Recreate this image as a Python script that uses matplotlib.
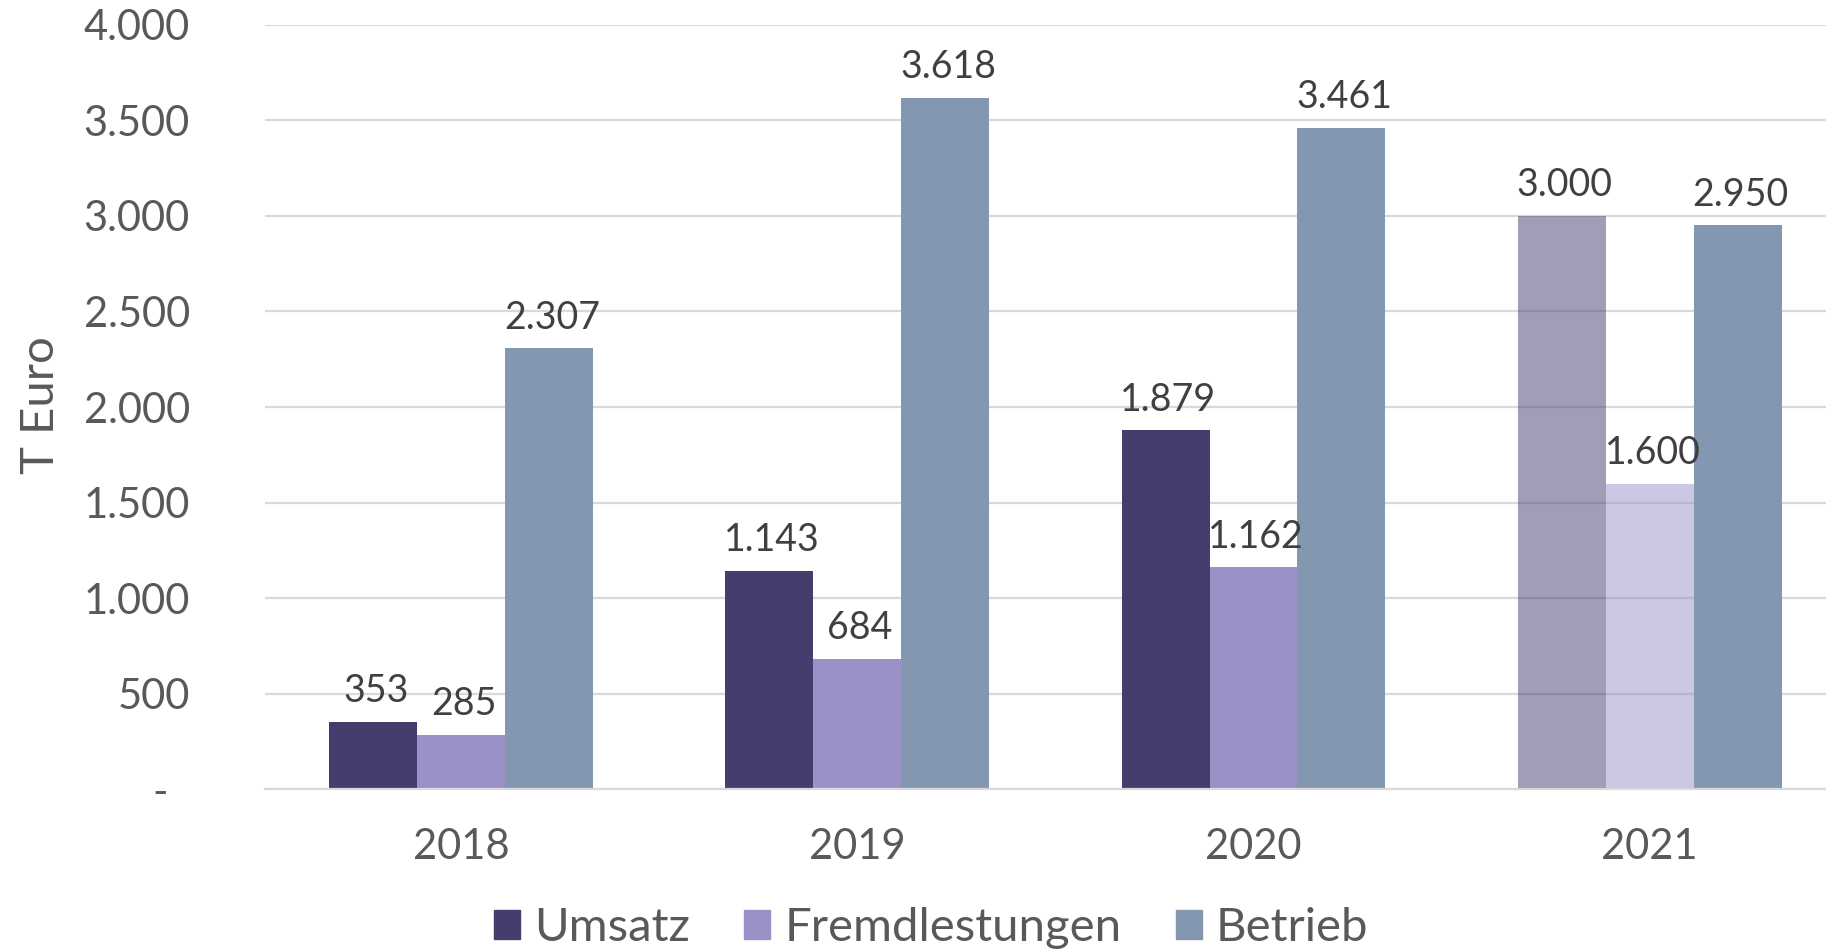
import matplotlib
matplotlib.use('Agg')
import matplotlib.pyplot as plt
from matplotlib.colors import to_rgba
from matplotlib.ticker import FuncFormatter, MultipleLocator
import numpy as np

# Data
years = ['2018', '2019', '2020', '2021']
umsatz = [353, 1143, 1879, 3000]
fremdleistungen = [285, 684, 1162, 1600]
betrieb = [2307, 3618, 3461, 2950]
series_names = ['Umsatz', 'Fremdlestungen', 'Betrieb']

# Style
colors = ['#463C6E', '#9B91C6', '#8497B0']
# 2021 Umsatz / Fremdleistungen drawn faded (plan values)
fade = [[1, 1, 1, 0.5], [1, 1, 1, 0.5], [1, 1, 1, 1]]
text_dark = '#404040'
text_grey = '#595959'
grid_col = '#D9D9D9'

plt.rcParams['font.family'] = ['Lato', 'DejaVu Sans']

fig = plt.figure(figsize=(18.26, 9.5), dpi=100)
ax = fig.add_axes([0.1451, 0.169, 0.8549, 0.805])

x = np.arange(len(years))
width = 0.222
offsets = [-width, 0, width]
all_vals = [umsatz, fremdleistungen, betrieb]

for vals, name, col, alphas, off in zip(all_vals, series_names, colors, fade, offsets):
    bar_cols = [to_rgba(col, a) for a in alphas]
    bars = ax.bar(x + off, vals, width, color=bar_cols, label=name, zorder=2)
    for rect, v in zip(bars, vals):
        ax.annotate(f'{v:,}'.replace(',', '.'),
                    (rect.get_x() + rect.get_width() / 2, rect.get_height()),
                    xytext=(2, 9), textcoords='offset points',
                    ha='center', va='bottom', fontsize=27, color=text_dark, zorder=5)

ax.set_xlim(-0.495, 3.445)
ax.set_ylim(0, 4000)
ax.yaxis.set_major_locator(MultipleLocator(500))
ax.yaxis.set_major_formatter(FuncFormatter(lambda v, p: '-  ' if v == 0 else f'{int(v):,}'.replace(',', '.')))
ax.set_xticks(x)
ax.set_xticklabels(years)

ax.grid(axis='y', color=grid_col, linewidth=1.6, zorder=0)
ax.set_axisbelow(True)
for s in ['top', 'right', 'left']:
    ax.spines[s].set_visible(False)
ax.spines['bottom'].set_color(grid_col)
ax.spines['bottom'].set_linewidth(1.6)
ax.tick_params(axis='both', length=0, labelsize=30, colors=text_grey)
ax.tick_params(axis='y', pad=54)
ax.tick_params(axis='x', pad=28)

fig.text(0.0225, 0.574, 'T Euro', rotation=90, ha='center', va='center',
         fontsize=34, color=text_grey)

# legend with plain colour squares
handles = [plt.Rectangle((0, 0), 1, 1, color=c) for c in colors]
fig.legend(handles, series_names, loc='center', bbox_to_anchor=(0.51, 0.023),
           ncol=3, frameon=False, fontsize=34, handlelength=0.55, handleheight=0.55,
           handletextpad=0.3, columnspacing=1.15, labelcolor=text_grey)

plt.savefig('out.png', dpi=100)
